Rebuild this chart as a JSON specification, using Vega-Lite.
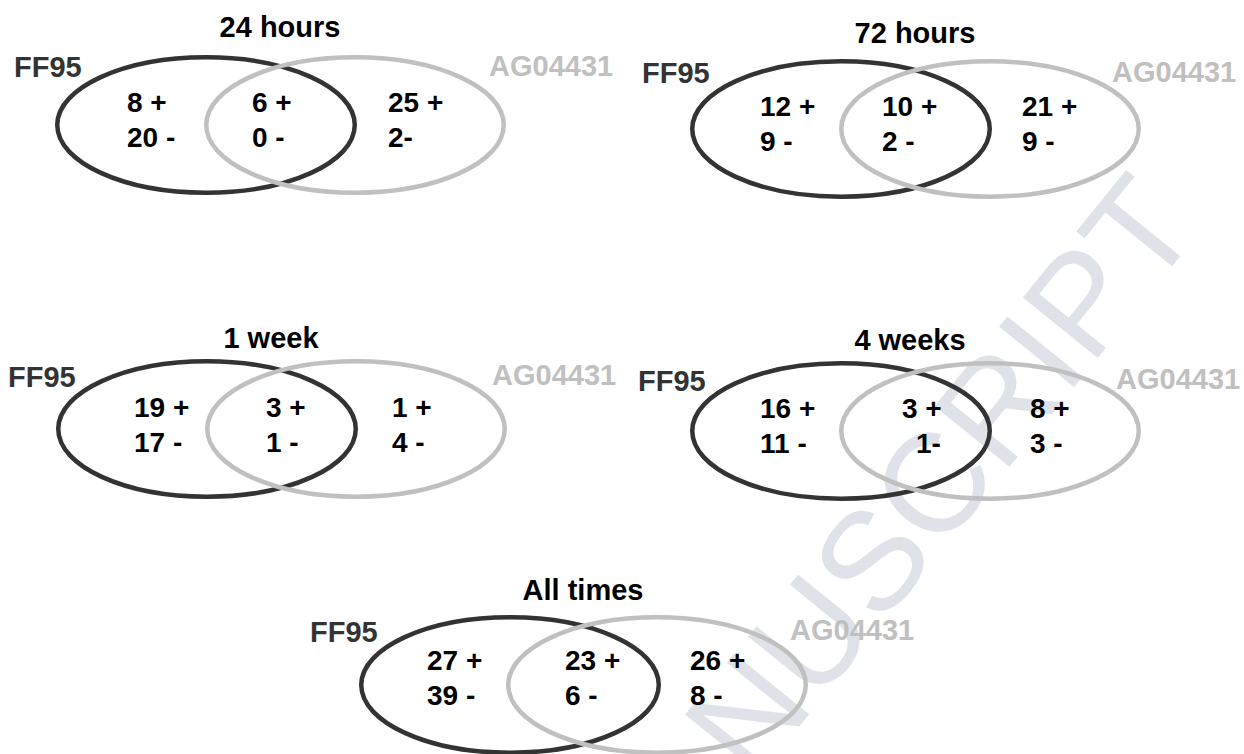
{
  "$schema": "https://vega.github.io/schema/vega-lite/v6.json",
  "width": 1244,
  "height": 754,
  "autosize": {"type": "none"},
  "padding": 0,
  "background": "#ffffff",
  "config": {"view": {"stroke": null}},
  "datasets": {
    "ellipses": [
      {"panel": "24 hours", "set": "FF95", "x": 206, "y": 125},
      {"panel": "24 hours", "set": "AG04431", "x": 355, "y": 125},
      {"panel": "72 hours", "set": "FF95", "x": 841, "y": 129},
      {"panel": "72 hours", "set": "AG04431", "x": 990, "y": 129},
      {"panel": "1 week", "set": "FF95", "x": 207, "y": 429},
      {"panel": "1 week", "set": "AG04431", "x": 356, "y": 429},
      {"panel": "4 weeks", "set": "FF95", "x": 841, "y": 431},
      {"panel": "4 weeks", "set": "AG04431", "x": 990, "y": 431},
      {"panel": "All times", "set": "FF95", "x": 510, "y": 685},
      {"panel": "All times", "set": "AG04431", "x": 657, "y": 685}
    ],
    "titles": [
      {"panel": "24 hours", "x": 280, "y": 37},
      {"panel": "72 hours", "x": 915, "y": 43},
      {"panel": "1 week", "x": 271, "y": 348},
      {"panel": "4 weeks", "x": 910, "y": 350},
      {"panel": "All times", "x": 583, "y": 600}
    ],
    "sets": [
      {"panel": "24 hours", "set": "FF95", "x": 14, "y": 77},
      {"panel": "24 hours", "set": "AG04431", "x": 489, "y": 76},
      {"panel": "72 hours", "set": "FF95", "x": 642, "y": 83},
      {"panel": "72 hours", "set": "AG04431", "x": 1112, "y": 82},
      {"panel": "1 week", "set": "FF95", "x": 8, "y": 387},
      {"panel": "1 week", "set": "AG04431", "x": 492, "y": 385},
      {"panel": "4 weeks", "set": "FF95", "x": 638, "y": 391},
      {"panel": "4 weeks", "set": "AG04431", "x": 1116, "y": 389},
      {"panel": "All times", "set": "FF95", "x": 310, "y": 642},
      {"panel": "All times", "set": "AG04431", "x": 790, "y": 640}
    ],
    "counts": [
      {"panel": "24 hours", "region": "FF95 only", "label": "8 +", "x": 127, "y": 112},
      {"panel": "24 hours", "region": "FF95 only", "label": "20 -", "x": 127, "y": 147},
      {"panel": "24 hours", "region": "both", "label": "6 +", "x": 252, "y": 112},
      {"panel": "24 hours", "region": "both", "label": "0 -", "x": 252, "y": 147},
      {"panel": "24 hours", "region": "AG04431 only", "label": "25 +", "x": 388, "y": 112},
      {"panel": "24 hours", "region": "AG04431 only", "label": "2-", "x": 388, "y": 147},
      {"panel": "72 hours", "region": "FF95 only", "label": "12 +", "x": 760, "y": 116},
      {"panel": "72 hours", "region": "FF95 only", "label": "9 -", "x": 760, "y": 151},
      {"panel": "72 hours", "region": "both", "label": "10 +", "x": 882, "y": 116},
      {"panel": "72 hours", "region": "both", "label": "2 -", "x": 882, "y": 151},
      {"panel": "72 hours", "region": "AG04431 only", "label": "21 +", "x": 1022, "y": 116},
      {"panel": "72 hours", "region": "AG04431 only", "label": "9 -", "x": 1022, "y": 151},
      {"panel": "1 week", "region": "FF95 only", "label": "19 +", "x": 134, "y": 417},
      {"panel": "1 week", "region": "FF95 only", "label": "17 -", "x": 134, "y": 452},
      {"panel": "1 week", "region": "both", "label": "3 +", "x": 266, "y": 417},
      {"panel": "1 week", "region": "both", "label": "1 -", "x": 266, "y": 452},
      {"panel": "1 week", "region": "AG04431 only", "label": "1 +", "x": 392, "y": 417},
      {"panel": "1 week", "region": "AG04431 only", "label": "4 -", "x": 392, "y": 452},
      {"panel": "4 weeks", "region": "FF95 only", "label": "16 +", "x": 760, "y": 418},
      {"panel": "4 weeks", "region": "FF95 only", "label": "11 -", "x": 760, "y": 453},
      {"panel": "4 weeks", "region": "both", "label": "3 +", "x": 902, "y": 418},
      {"panel": "4 weeks", "region": "both", "label": "1-", "x": 916, "y": 453},
      {"panel": "4 weeks", "region": "AG04431 only", "label": "8 +", "x": 1030, "y": 418},
      {"panel": "4 weeks", "region": "AG04431 only", "label": "3 -", "x": 1030, "y": 453},
      {"panel": "All times", "region": "FF95 only", "label": "27 +", "x": 427, "y": 670},
      {"panel": "All times", "region": "FF95 only", "label": "39 -", "x": 427, "y": 705},
      {"panel": "All times", "region": "both", "label": "23 +", "x": 565, "y": 670},
      {"panel": "All times", "region": "both", "label": "6 -", "x": 565, "y": 705},
      {"panel": "All times", "region": "AG04431 only", "label": "26 +", "x": 690, "y": 670},
      {"panel": "All times", "region": "AG04431 only", "label": "8 -", "x": 690, "y": 705}
    ],
    "watermark": [
      {"text": "ACCEPTED MANUSCRIPT", "x": 1203, "y": 228}
    ]
  },
  "encoding": {
    "x": {"field": "x", "type": "quantitative", "axis": null, "scale": {"domain": [0, 1244], "nice": false, "zero": false}},
    "y": {"field": "y", "type": "quantitative", "axis": null, "scale": {"domain": [0, 754], "nice": false, "zero": false, "reverse": true}}
  },
  "layer": [
    {
      "data": {"name": "watermark"},
      "mark": {"type": "text", "font": "Liberation Sans", "fontSize": 140, "color": "#dfe3e9", "align": "right", "baseline": "alphabetic", "angle": -51, "clip": true},
      "encoding": {"text": {"field": "text"}}
    },
    {
      "data": {"name": "ellipses"},
      "mark": {
        "type": "point",
        "shape": "M -1 0 C -1 -0.2513 -0.5523 -0.455 0 -0.455 C 0.5523 -0.455 1 -0.2513 1 0 C 1 0.2513 0.5523 0.455 0 0.455 C -0.5523 0.455 -1 0.2513 -1 0 Z",
        "size": 88506,
        "filled": false,
        "strokeWidth": 4.5,
        "opacity": 1
      },
      "encoding": {
        "color": {"field": "set", "type": "nominal", "legend": null, "scale": {"domain": ["FF95", "AG04431"], "range": ["#333333", "#c0c0c0"]}},
        "order": {"field": "set", "sort": "descending"}
      }
    },
    {
      "data": {"name": "titles"},
      "mark": {"type": "text", "font": "Liberation Sans", "fontWeight": "bold", "fontSize": 29, "color": "#000000", "align": "center", "baseline": "alphabetic"},
      "encoding": {"text": {"field": "panel"}}
    },
    {
      "data": {"name": "sets"},
      "mark": {"type": "text", "font": "Liberation Sans", "fontWeight": "bold", "fontSize": 29, "align": "left", "baseline": "alphabetic"},
      "encoding": {
        "text": {"field": "set"},
        "color": {"field": "set", "type": "nominal", "legend": null}
      }
    },
    {
      "data": {"name": "counts"},
      "mark": {"type": "text", "font": "Liberation Sans", "fontWeight": "bold", "fontSize": 28, "color": "#000000", "align": "left", "baseline": "alphabetic"},
      "encoding": {"text": {"field": "label"}}
    }
  ]
}
